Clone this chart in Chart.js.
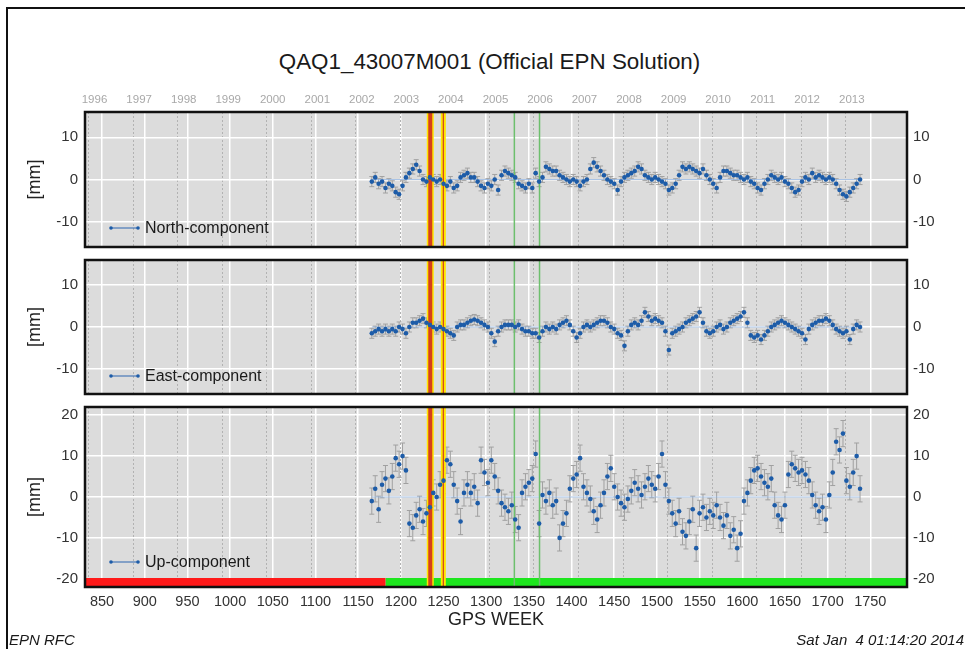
<!DOCTYPE html>
<html>
<head>
<meta charset="utf-8">
<title>QAQ1_43007M001</title>
<script src="https://cdn.jsdelivr.net/npm/chart.js@4.4.0/dist/chart.umd.min.js"></script>
<style>
  html, body { margin: 0; padding: 0; background: #fff; overflow: hidden; }
  body { width: 965px; height: 649px; position: relative; font-family: "Liberation Sans", Arial, Helvetica, sans-serif; }
  #frame { position: absolute; left: 6px; top: 7px; width: 975px; height: 660px; border: 2px solid #111; box-sizing: border-box; }
  #title { position: absolute; left: 0; top: 49px; width: 979px; text-align: center; font-size: 22.4px; line-height: 26px; color: #1a1a1a; }
  canvas { position: absolute; left: 0; }
  #north { top: 80px; }
  #east { top: 255px; }
  #up { top: 400px; }
  .foot { position: absolute; top: 631px; font-size: 15px; line-height: 18px; font-style: italic; color: #1a1a1a; white-space: pre; }
  #foot-left { left: 9px; }
  #foot-right { right: 1px; }
</style>
</head>
<body>
<div id="frame"></div>
<div id="title">QAQ1_43007M001 (Official EPN Solution)</div>
<canvas id="north" width="965" height="175"></canvas>
<canvas id="east" width="965" height="145"></canvas>
<canvas id="up" width="965" height="240"></canvas>
<div class="foot" id="foot-left">EPN RFC</div>
<div class="foot" id="foot-right">Sat Jan  4 01:14:20 2014</div>
<script>
// GPS weeks of the (sampled) weekly solutions
const weeks = [
  1166, 1170, 1174, 1178, 1182, 1186, 1190, 1194, 1198, 1202,
  1206, 1210, 1214, 1218, 1222, 1226, 1230, 1234, 1238, 1242,
  1246, 1250, 1254, 1258, 1262, 1266, 1270, 1274, 1278, 1282,
  1286, 1290, 1294, 1298, 1302, 1306, 1310, 1314, 1318, 1322,
  1326, 1330, 1334, 1338, 1342, 1346, 1350, 1354, 1358, 1362,
  1366, 1370, 1374, 1378, 1382, 1386, 1390, 1394, 1398, 1402,
  1406, 1410, 1414, 1418, 1422, 1426, 1430, 1434, 1438, 1442,
  1446, 1450, 1454, 1458, 1462, 1466, 1470, 1474, 1478, 1482,
  1486, 1490, 1494, 1498, 1502, 1506, 1510, 1514, 1518, 1522,
  1526, 1530, 1534, 1538, 1542, 1546, 1550, 1554, 1558, 1562,
  1566, 1570, 1574, 1578, 1582, 1586, 1590, 1594, 1598, 1602,
  1606, 1610, 1614, 1618, 1622, 1626, 1630, 1634, 1638, 1642,
  1646, 1650, 1654, 1658, 1662, 1666, 1670, 1674, 1678, 1682,
  1686, 1690, 1694, 1698, 1702, 1706, 1710, 1714, 1718, 1722,
  1726, 1730, 1734, 1738
];

// residuals [mm]
const north = [
  -0.5, 0.5, -1.0, -0.5, -2.0, -1.0, -1.5, -3.0, -3.5, -1.5,
  0.5, 1.5, 2.5, 3.5, 2.0, 0.0, -0.5, 0.5, 0.0, -0.5,
  0.0, -1.0, -1.5, -0.5, -2.0, -1.5, 0.5, 1.0, 1.5, 0.5,
  0.5, -0.5, -1.5, -2.0, -1.0, -1.5, 0.0, -2.5, 1.0, 2.0,
  1.5, 1.0, 0.5, -1.0, -1.5, -2.0, -1.0, -2.0, 1.5, -0.5,
  0.5, 3.0, 2.5, 2.0, 2.0, 1.0, 0.5, 0.0, -0.5, 0.0,
  -0.5, -1.5, -0.5, 0.0, 2.5, 4.0, 3.0, 2.0, 1.0, 0.0,
  -0.5, -1.0, -2.5, -0.5, 0.5, 1.0, 1.5, 2.0, 3.0, 2.5,
  1.0, 0.5, 0.0, 0.5, 0.0, -0.5, -1.0, -2.5, -2.0, -1.0,
  1.0, 3.0, 2.5, 3.0, 2.5, 2.0, 1.5, 2.5, 1.0, 0.0,
  -1.0, -2.0, 0.5, 2.0, 2.0, 1.5, 1.0, 1.0, 0.5, 0.0,
  0.5, -0.5, -1.0, -2.0, -2.5, -1.0, 0.0, 1.0, 0.5, 0.0,
  0.5, -0.5, -1.0, -2.0, -3.0, -2.5, -0.5, 0.5, 0.0, 1.5,
  0.5, 1.0, 0.5, 0.0, 0.5, 0.0, -1.0, -2.5, -3.5, -4.0,
  -3.0, -2.0, -1.0, 0.0
];
const east = [
  -1.5, -1.0, -0.5, -1.0, -0.5, -1.0, -0.5, -1.0, 0.0, -0.5,
  -1.5, 0.0, 1.0, 1.0, 1.5, 2.0, 1.0, 0.5, 0.0, -0.5,
  0.0, -0.5, -1.0, -1.5, -2.0, 0.0, 0.5, 0.5, 1.0, 1.5,
  1.8, 1.5, 1.0, 0.5, 0.0, -1.5, -3.5, -1.0, 0.0, 0.5,
  0.5, 0.5, 0.0, 0.5, -0.5, -1.0, -1.0, -1.5, -1.5, -2.5,
  -1.0, 0.0, -0.5, 0.0, -0.5, 0.5, 1.0, 1.5, 0.5, -1.0,
  -2.5, -1.5, 0.0, 0.5, 0.0, 0.5, 1.0, 1.5, 1.5, 1.0,
  0.0, -0.5, -1.5, -2.0, -4.5, -1.0, 0.5, 1.0, 0.5, 1.5,
  3.5, 2.5, 1.5, 2.0, 1.5, 1.0, -1.0, -5.5, -1.5, -1.0,
  -0.5, 0.0, 1.0, 1.5, 2.0, 2.5, 3.5, 1.0, -1.0, -1.5,
  -1.0, 0.0, 0.5, -0.5, 0.0, 1.0, 1.5, 2.0, 2.5, 3.5,
  1.0, -2.0, -2.5, -2.0, -3.0, -2.0, -1.0, 0.0, 0.5, 1.0,
  1.5, 1.0, 0.5, 0.0, -0.5, -1.0, -1.5, -3.0, -0.5, 0.5,
  1.0, 1.5, 1.5, 2.0, 1.5, 0.5, -0.5, -1.0, -1.5, -1.0,
  -3.0, -0.5, 0.5, 0.0
];
const up = [
  -1.0, 2.0, -3.0, 3.0, 4.5, 1.5, 5.0, 9.5, 8.0, 10.0,
  6.5, -6.5, -7.5, -4.5, -3.0, -6.0, -4.0, -2.5, 1.0, 0.0,
  3.0, 4.0, 9.0, 8.0, 3.0, -1.0, -6.0, 1.0, 3.0, 1.0,
  2.5, -1.5, 9.0, 6.0, 3.5, 9.0, 5.0, 1.5, -1.5, -2.5,
  -3.5, -2.0, -5.5, -7.5, 1.0, 2.5, 3.5, 4.5, 10.5, -6.5,
  0.5, -1.0, 1.0, -2.0, -1.0, -10.0, -6.5, -4.0, 2.0, 4.5,
  5.5, 9.5, 2.5, 1.0, -0.5, -3.5, -5.5, -2.0, 1.0, 5.0,
  7.0, 2.5, 0.0, -1.5, -2.5, -0.5, 1.5, 3.5, 2.0, 0.5,
  2.5, 4.5, 3.0, 2.0, 5.0, 10.5, 3.0, -1.0, -4.0, -6.5,
  -3.5, -8.5, -9.5, -6.0, -3.0, -12.5, -4.0, -2.5, -5.0, -3.5,
  -4.5, -2.0, -5.0, -7.0, -4.5, -9.5, -8.0, -12.5, -9.0, -1.0,
  1.0, 4.0, 6.5, 7.0, 5.0, 3.5, 2.5, 4.5, -2.0, -4.5,
  -5.5, -2.0, 5.5, 8.0, 7.0, 6.0, 6.5, 5.5, 4.0, 0.5,
  -2.0, -3.5, -2.5, -5.5, 0.5, 6.0, 13.5, 11.5, 15.5, 4.0,
  2.5, 6.0, 10.0, 2.0
];
// typical formal error (1 sigma) per component [mm]
const northErr = 1.2;
const eastErr = 1.2;
const upErr = 3.2;

// axes
const weekRange = [830, 1793];
const weekTicks = [850, 900, 950, 1000, 1050, 1100, 1150, 1200, 1250, 1300,
  1350, 1400, 1450, 1500, 1550, 1600, 1650, 1700, 1750];
const years = ['1996', '1997', '1998', '1999', '2000', '2001', '2002', '2003', '2004',
  '2005', '2006', '2007', '2008', '2009', '2010', '2011', '2012', '2013'];
const yearWeeks = [834.1, 886.4, 938.6, 990.7, 1042.9, 1095.1, 1147.3, 1199.4, 1251.6,
  1303.9, 1356.0, 1408.1, 1460.3, 1512.6, 1564.7, 1616.9, 1669.0, 1721.3];
const horizTicks = [-10, 0, 10];
const horizRange = [-16, 16];
const upTicks = [-20, -10, 0, 10, 20];
const upRange = [-22, 22];

// events: equipment changes (red/yellow) and other changes (green)
const offsetWeeks = [1234.5, 1249.8];
const changeWeeks = [1333, 1362.5];
// red = not yet in the EPN, green = included
const statusSplit = 1182;

const FONT = '"Liberation Sans", Arial, Helvetica, sans-serif';
Chart.defaults.font.family = FONT;

const panels = {};

const panelPlugin = {
  id: 'panel',
  beforeDraw(chart) {
    const { ctx, chartArea: a } = chart;
    ctx.save();
    ctx.fillStyle = '#dcdcdc';
    ctx.fillRect(a.left, a.top, a.right - a.left, a.bottom - a.top);
    ctx.restore();
  },
  beforeDatasetsDraw(chart) {
    const p = panels[chart.canvas.id];
    const { ctx, chartArea: a, scales } = chart;
    ctx.save();
    ctx.beginPath();
    ctx.rect(a.left, a.top, a.right - a.left, a.bottom - a.top);
    ctx.clip();
    ctx.strokeStyle = '#a0a0a0';
    ctx.lineWidth = 1;
    p.values.forEach((v, i) => {
      const x = scales.x.getPixelForValue(weeks[i]);
      const y1 = scales.y.getPixelForValue(v - p.err);
      const y2 = scales.y.getPixelForValue(v + p.err);
      ctx.beginPath();
      ctx.moveTo(x, y1); ctx.lineTo(x, y2);
      ctx.moveTo(x - 2.5, y1); ctx.lineTo(x + 2.5, y1);
      ctx.moveTo(x - 2.5, y2); ctx.lineTo(x + 2.5, y2);
      ctx.stroke();
    });
    ctx.restore();
  },
  afterDraw(chart) {
    const p = panels[chart.canvas.id];
    const { ctx, chartArea: a } = chart;
    ctx.save();
    // frame
    ctx.strokeStyle = '#111';
    ctx.lineWidth = 2.5;
    ctx.strokeRect(a.left, a.top, a.right - a.left, a.bottom - a.top);
    // legend inside the panel
    const lx = a.left + 26;
    const ly = a.bottom - p.legendGap;
    ctx.strokeStyle = '#2a64b0';
    ctx.lineWidth = 1;
    ctx.beginPath();
    ctx.moveTo(lx, ly);
    ctx.lineTo(lx + 27, ly);
    ctx.stroke();
    ctx.fillStyle = '#1d5ca8';
    [lx, lx + 27].forEach(x => {
      ctx.beginPath();
      ctx.arc(x, ly, 1.8, 0, Math.PI * 2);
      ctx.fill();
    });
    ctx.fillStyle = '#1a1a1a';
    ctx.font = '16px ' + FONT;
    ctx.textBaseline = 'middle';
    ctx.textAlign = 'left';
    ctx.fillText(p.label, lx + 34, ly + 1);
    ctx.restore();
  }
};

function vline(week, range, color, width, order) {
  return {
    data: [{ x: week, y: range[0] }, { x: week, y: range[1] }],
    borderColor: color,
    borderWidth: width,
    pointRadius: 0,
    order: order,
    clip: 0
  };
}

function noPad(s) {
  s.paddingTop = 0;
  s.paddingBottom = 0;
  s.paddingLeft = 0;
  s.paddingRight = 0;
}

function makePanel(id, label, values, err, yTicks, yRange, cfg) {
  panels[id] = { label, values, err, legendGap: cfg.legendGap };

  const datasets = [
    {
      label: label,
      data: weeks.map((w, i) => ({ x: w, y: values[i] })),
      showLine: false,
      pointRadius: 2.3,
      pointBackgroundColor: '#1d5ca8',
      pointBorderWidth: 0,
      order: 0
    },
    {
      data: [{ x: weeks[0], y: 0 }, { x: weeks[weeks.length - 1], y: 0 }],
      borderColor: 'rgba(140,175,220,0.75)',
      borderWidth: 1,
      pointRadius: 0,
      order: 8
    },
    vline(offsetWeeks[0], yRange, '#ffe600', 7, 3),
    vline(offsetWeeks[0], yRange, '#d4401c', 4, 2),
    vline(offsetWeeks[1], yRange, '#ffe600', 5, 3),
    vline(offsetWeeks[1], yRange, '#d4401c', 1.2, 2),
    ...changeWeeks.map(w => vline(w, yRange, '#6dbf6d', 1.5, 4))
  ];

  if (cfg.statusBar) {
    const barY = yRange[0] + 1.1;
    datasets.push({
      data: [{ x: weekRange[0], y: barY }, { x: statusSplit, y: barY }],
      borderColor: '#ff1a1a', borderWidth: 9, pointRadius: 0, order: 5, clip: 0
    });
    datasets.push({
      data: [{ x: statusSplit, y: barY }, { x: weekRange[1], y: barY }],
      borderColor: '#1ee61e', borderWidth: 9, pointRadius: 0, order: 5, clip: 0
    });
  }

  const yAxis = (position) => ({
    position: position,
    min: yRange[0],
    max: yRange[1],
    afterBuildTicks: s => { s.ticks = yTicks.map(v => ({ value: v })); },
    afterFit: s => { s.width = position === 'left' ? 85 : 58; noPad(s); },
    ticks: {
      padding: position === 'left' ? 7 : 6,
      color: '#333',
      font: { size: 15 },
      callback: v => String(v)
    },
    grid: { display: position === 'left', color: '#ffffff', lineWidth: 1.5, drawTicks: false },
    border: { display: false },
    title: {
      display: position === 'left',
      text: '[mm]',
      color: '#222',
      font: { size: 18 },
      padding: { top: 24, bottom: 0 }
    }
  });

  return new Chart(document.getElementById(id), {
    type: 'line',
    data: { datasets },
    plugins: [panelPlugin],
    options: {
      responsive: false,
      animation: false,
      events: [],
      layout: { padding: 0 },
      plugins: { legend: { display: false }, tooltip: { enabled: false } },
      scales: {
        x: {
          type: 'linear',
          position: 'bottom',
          min: weekRange[0],
          max: weekRange[1],
          afterBuildTicks: s => { s.ticks = weekTicks.map(v => ({ value: v })); },
          afterFit: s => { s.height = cfg.bottomH; noPad(s); },
          ticks: {
            display: cfg.showWeeks,
            autoSkip: false,
            maxRotation: 0,
            padding: 6,
            color: '#333',
            font: { size: 14.5 },
            callback: v => String(v)
          },
          grid: { color: '#ffffff', lineWidth: 1.5, drawTicks: false },
          border: { display: false },
          title: {
            display: cfg.showWeeks,
            text: 'GPS WEEK',
            color: '#222',
            font: { size: 18 },
            padding: { top: 0, bottom: 9 }
          }
        },
        years: {
          type: 'linear',
          position: 'top',
          min: weekRange[0],
          max: weekRange[1],
          afterBuildTicks: s => { s.ticks = yearWeeks.map(v => ({ value: v })); },
          afterFit: s => { s.height = cfg.topH; noPad(s); },
          ticks: {
            display: cfg.showYears,
            autoSkip: false,
            maxRotation: 0,
            padding: 5,
            labelOffset: 6,
            color: '#a8a8a8',
            font: { size: 11.5 },
            callback: (v, i) => years[i]
          },
          grid: { color: '#b2b2b2', lineWidth: 1, drawTicks: false },
          border: { display: false, dash: [2, 2] }
        },
        y: yAxis('left'),
        y2: yAxis('right')
      }
    }
  });
}

makePanel('north', 'North-component', north, northErr, horizTicks, horizRange,
  { topH: 32, bottomH: 8, showYears: true, showWeeks: false, legendGap: 19 });
makePanel('east', 'East-component', east, eastErr, horizTicks, horizRange,
  { topH: 5, bottomH: 6, showYears: false, showWeeks: false, legendGap: 18 });
makePanel('up', 'Up-component', up, upErr, upTicks, upRange,
  { topH: 7, bottomH: 53, showYears: false, showWeeks: true, legendGap: 25, statusBar: true });
</script>
</body>
</html>
